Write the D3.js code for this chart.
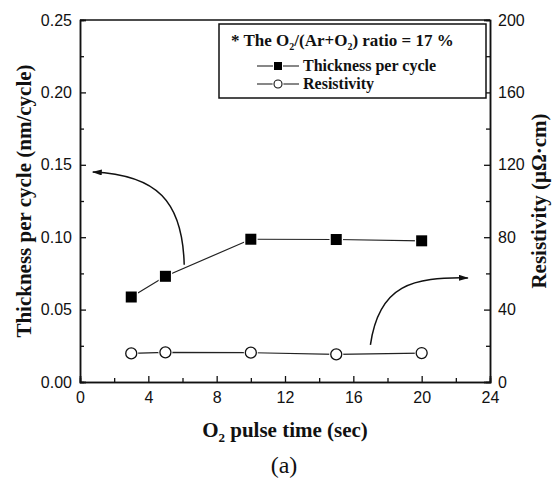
<!DOCTYPE html>
<html>
<head>
<meta charset="utf-8">
<script src="https://cdn.jsdelivr.net/npm/d3@7"></script>
<style>
body { margin: 0; background: #fff; }
.tick text { font-family: "Liberation Sans", Arial, sans-serif; font-size: 16px; fill: #111; }
.title { font-family: "Liberation Serif", "Times New Roman", serif; font-weight: bold; fill: #111; }
</style>
</head>
<body>
<div id="chart-area"></div>
<script>
// data
var pulseTime = [3, 5, 10, 15, 20];
var thickness = [0.0587, 0.073, 0.0986, 0.0984, 0.0975];
var resistivity = [15.8, 16.4, 16.2, 15.3, 16.0];
var xTicks = [0, 4, 8, 12, 16, 20, 24];
var leftTicks = [0.00, 0.05, 0.10, 0.15, 0.20, 0.25];
var rightTicks = [0, 40, 80, 120, 160, 200];

var margin = { top: 20, right: 64, bottom: 99, left: 80 },
    width = 554 - margin.left - margin.right,
    height = 481 - margin.top - margin.bottom;

var svg = d3.select("#chart-area")
    .append("svg")
    .attr("width", 554)
    .attr("height", 481);

var g = svg.append("g")
    .attr("transform", "translate(" + margin.left + "," + margin.top + ")");

var x = d3.scaleLinear().domain([0, 24]).range([0, width]);
var y = d3.scaleLinear().domain([0, 0.25]).range([height, 0]);
var y2 = d3.scaleLinear().domain([0, 200]).range([height, 0]);

// minor ticks first (no labels)
g.append("g")
    .attr("transform", "translate(0," + height + ")")
    .call(d3.axisBottom(x).tickValues(d3.range(2, 24, 4)).tickSize(-4).tickFormat(""));
g.append("g")
    .call(d3.axisLeft(y).tickValues(d3.range(0.025, 0.25, 0.05)).tickSize(-4).tickFormat(""));
g.append("g")
    .attr("transform", "translate(" + width + ",0)")
    .call(d3.axisRight(y2).tickValues(d3.range(20, 200, 40)).tickSize(-4).tickFormat(""));

// main axes
g.append("g")
    .attr("transform", "translate(0," + height + ")")
    .call(d3.axisBottom(x).tickValues(xTicks).tickSize(-6).tickPadding(10).tickFormat(d3.format("d")));
g.append("g")
    .call(d3.axisLeft(y).tickValues(leftTicks).tickSize(-6).tickPadding(8).tickFormat(d3.format(".2f")));
g.append("g")
    .attr("transform", "translate(" + width + ",0)")
    .call(d3.axisRight(y2).tickValues(rightTicks).tickSize(-6).tickPadding(8).tickFormat(d3.format("d")));

// top frame
g.append("line")
    .attr("class", "frame")
    .attr("x1", 0).attr("x2", width)
    .attr("y1", 0).attr("y2", 0)
    .attr("stroke", "#111")
    .attr("stroke-width", 1.5);

g.selectAll(".domain").attr("stroke-width", 1.5).attr("stroke", "#111");
g.selectAll(".tick line").attr("stroke-width", 1.3).attr("stroke", "#111");

// data lines
var thickLine = d3.line()
    .x((d, i) => x(pulseTime[i]))
    .y((d) => y(d));
var resLine = d3.line()
    .x((d, i) => x(pulseTime[i]))
    .y((d) => y2(d));

g.append("path")
    .attr("d", thickLine(thickness))
    .attr("fill", "none")
    .attr("stroke", "#222")
    .attr("stroke-width", 1.2);
g.append("path")
    .attr("d", resLine(resistivity))
    .attr("fill", "none")
    .attr("stroke", "#222")
    .attr("stroke-width", 1.2);

// square markers with a small white halo
g.selectAll(".sq")
    .data(thickness)
    .enter().append("rect")
    .attr("x", (d, i) => x(pulseTime[i]) - 5.5)
    .attr("y", (d) => y(d) - 5.5)
    .attr("width", 11)
    .attr("height", 11)
    .attr("fill", "#000")
    .attr("stroke", "#fff")
    .attr("stroke-width", 2.5)
    .attr("paint-order", "stroke");

g.selectAll(".circ")
    .data(resistivity)
    .enter().append("circle")
    .attr("cx", (d, i) => x(pulseTime[i]))
    .attr("cy", (d) => y2(d))
    .attr("r", 7)
    .attr("fill", "#fff");
g.selectAll(".circ2")
    .data(resistivity)
    .enter().append("circle")
    .attr("cx", (d, i) => x(pulseTime[i]))
    .attr("cy", (d) => y2(d))
    .attr("r", 5.5)
    .attr("fill", "#fff")
    .attr("stroke", "#111")
    .attr("stroke-width", 1.3);

// curved arrows
var defs = svg.append("defs");
defs.append("marker")
    .attr("id", "arrow")
    .attr("viewBox", "0 0 10 6")
    .attr("refX", 9).attr("refY", 3)
    .attr("markerWidth", 10).attr("markerHeight", 6)
    .attr("markerUnits", "userSpaceOnUse")
    .attr("orient", "auto")
    .append("path")
    .attr("d", "M0,0 L10,3 L0,6 Z")
    .attr("fill", "#111");

g.append("path")
    .attr("d", "M" + x(6.1) + "," + y(0.081) +
        " C" + x(6.0) + "," + y(0.125) + " " + x(4.5) + "," + y(0.143) + " " + x(0.75) + "," + y(0.145))
    .attr("fill", "none")
    .attr("stroke", "#111")
    .attr("stroke-width", 1.5)
    .attr("marker-end", "url(#arrow)");

g.append("path")
    .attr("d", "M" + x(17.0) + "," + y2(20.5) +
        " C" + x(17.5) + "," + y2(54) + " " + x(19.5) + "," + y2(58) + " " + x(22.7) + "," + y2(57.5))
    .attr("fill", "none")
    .attr("stroke", "#111")
    .attr("stroke-width", 1.5)
    .attr("marker-end", "url(#arrow)");

// legend
var leg = g.append("g").attr("transform", "translate(139,4)");
leg.append("rect")
    .attr("width", 267).attr("height", 74)
    .attr("fill", "#fff")
    .attr("stroke", "#111")
    .attr("stroke-width", 1.5);

var legTitle = leg.append("text")
    .attr("class", "title")
    .attr("x", 12).attr("y", 22)
    .style("font-size", "17px");
legTitle.append("tspan").text("* The O");
legTitle.append("tspan").attr("dy", 4).style("font-size", "10px").text("2");
legTitle.append("tspan").attr("dy", -4).text("/(Ar+O");
legTitle.append("tspan").attr("dy", 4).style("font-size", "10px").text("2");
legTitle.append("tspan").attr("dy", -4).text(") ratio = 17 %");

var legItems = [{ label: "Thickness per cycle", y: 42, shape: "square" },
    { label: "Resistivity", y: 60, shape: "circle" }];
legItems.forEach((it) => {
    leg.append("line")
        .attr("x1", 38).attr("x2", 80)
        .attr("y1", it.y).attr("y2", it.y)
        .attr("stroke", "#111").attr("stroke-width", 1.2);
    if (it.shape == "square") {
        leg.append("rect")
            .attr("x", 55).attr("y", it.y - 4)
            .attr("width", 8).attr("height", 8)
            .attr("fill", "#000").attr("stroke", "#fff").attr("stroke-width", 2)
            .attr("paint-order", "stroke");
    } else {
        leg.append("circle")
            .attr("cx", 59).attr("cy", it.y).attr("r", 5.5).attr("fill", "#fff");
        leg.append("circle")
            .attr("cx", 59).attr("cy", it.y).attr("r", 4)
            .attr("fill", "#fff").attr("stroke", "#111").attr("stroke-width", 1.1);
    }
    leg.append("text")
        .attr("class", "title")
        .attr("x", 84).attr("y", it.y + 5)
        .style("font-size", "16px")
        .text(it.label);
});

// axis titles
var xt = g.append("text")
    .attr("class", "title")
    .attr("x", width / 2)
    .attr("y", height + 55)
    .attr("text-anchor", "middle")
    .style("font-size", "21px");
xt.append("tspan").text("O");
xt.append("tspan").attr("dy", 5).style("font-size", "13px").text("2");
xt.append("tspan").attr("dy", -5).text(" pulse time (sec)");

g.append("text")
    .attr("class", "title")
    .attr("x", -(height / 2))
    .attr("y", -49)
    .attr("text-anchor", "middle")
    .attr("transform", "rotate(-90)")
    .style("font-size", "21px")
    .text("Thickness per cycle (nm/cycle)");

g.append("text")
    .attr("class", "title")
    .attr("x", -(height / 2))
    .attr("y", width + 56)
    .attr("text-anchor", "middle")
    .attr("transform", "rotate(-90)")
    .style("font-size", "21px")
    .text("Resistivity (\u03bc\u03a9\u00b7cm)");

svg.append("text")
    .attr("x", 284)
    .attr("y", 473)
    .attr("text-anchor", "middle")
    .style("font-family", "'Liberation Serif', 'Times New Roman', serif")
    .style("font-size", "24px")
    .attr("fill", "#111")
    .text("(a)");
</script>
</body>
</html>
